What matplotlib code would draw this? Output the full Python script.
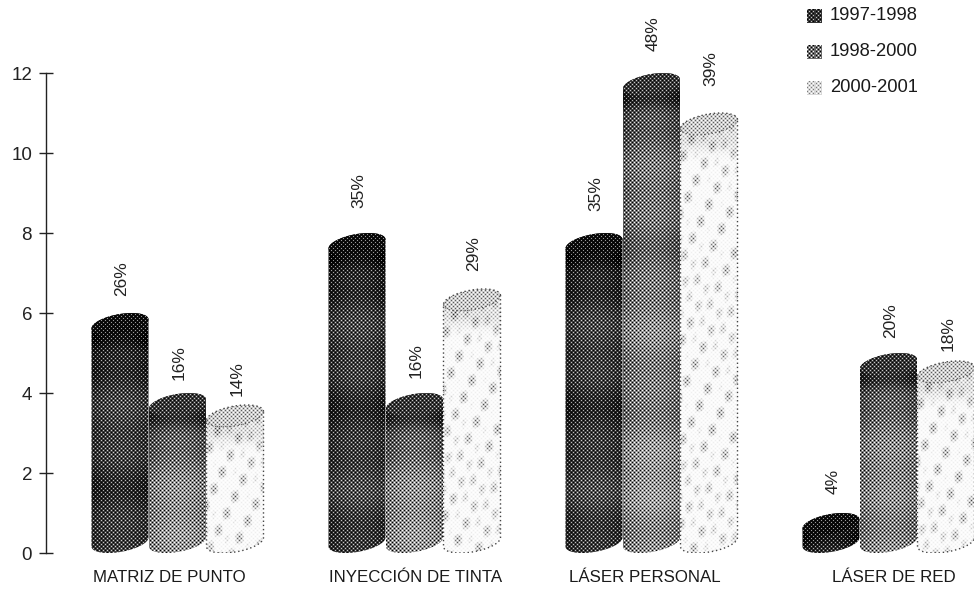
import numpy as np
import matplotlib
matplotlib.use('Agg')
import matplotlib.pyplot as plt
from matplotlib.patches import Polygon

plt.rcParams['font.family'] = ['Liberation Sans', 'DejaVu Sans']

categories = ['MATRIZ DE PUNTO', 'INYECCIÓN DE TINTA', 'LÁSER PERSONAL', 'LÁSER DE RED']
series = ['1997-1998', '1998-2000', '2000-2001']
values_9798 = [6.0, 8.0, 8.0, 1.0]
values_9800 = [4.0, 4.0, 12.0, 5.0]
values_0001 = [3.7, 6.6, 11.0, 4.8]
labels_9798 = ['26%', '35%', '35%', '4%']
labels_9800 = ['16%', '16%', '48%', '20%']
labels_0001 = ['14%', '29%', '39%', '18%']
yticks = [0, 2, 4, 6, 8, 10, 12]

# gap over each cylinder to its label, pixels
gaps_9798 = [17, 25, 22, 19]
gaps_9800 = [13, 15, 22, 15]
gaps_0001 = [9, 18, 27, 10]
# the category labels are not centred under the groups in the original
cat_shift = [-8, 1, -7, 5]

W, H = 974, 590
fig = plt.figure(figsize=(W / 100, H / 100), dpi=100)
ax = fig.add_axes([46 / W, (H - 553) / H, (W - 46) / W, 480 / H])
xlim = ((46 - 177.5) / 237, (W - 177.5) / 237)
ax.set_xlim(*xlim)
ax.set_ylim(0, 12)

PX = 1 / 237   # one pixel in x data units
PY = 12 / 480  # one pixel in y data units
BAR_W = 57 * PX
ELL_B = 10 * PY
ELL_K = 4.5 * PY
ELL_R = np.hypot(10, 4.5) * PY


def screen(w, h, x0=0):
    # 45 degree halftone screen, values -1..1
    yy, xx = np.mgrid[0:h, 0:w]
    xx = xx + x0
    return 0.5 * (np.cos(np.pi * (xx + yy) / 2) + np.cos(np.pi * (xx - yy) / 2))


def tone_map(kind, w, h):
    u = np.linspace(-1, 1, w)[None, :]
    ypx = np.arange(h)[:, None]
    v = np.linspace(0, 1, h)[:, None]  # 0 top, 1 bottom
    bands = 0.05 * np.sin(ypx / 23.0) + 0.03 * np.sin(ypx / 9.0 + 1)
    band_top = np.exp(-((ypx - 26) / 12.0) ** 2)
    if kind == 0:
        t = 0.78 - 0.04 * v + 0.10 * u ** 2 + bands + 0.12 * band_top
    elif kind == 1:
        t = 0.60 - 0.22 * v + 0.12 * u ** 2 + bands + 0.20 * band_top
    else:
        # mottled stipple of the lightest series
        blobs = np.maximum(0, np.sin(u * 4 + ypx / 19.0) * np.sin(ypx / 4.5 + u * 2) * np.cos(u * 9 - ypx / 31.0))
        t = 0.02 + 0.22 * blobs + 0.10 * band_top
    return np.clip(t, 0, 1)


def halftone(tone, x0=0):
    h, w = tone.shape
    amp = np.minimum(0.55, 2.2 * tone)
    return np.clip(1 - tone + amp * screen(w, h, x0), 0, 1)


def outline(cx, val, part):
    # tilted ellipse arcs in data units
    a = BAR_W / 2
    t = np.linspace(0, np.pi, 40)
    top_y = val - ELL_R
    bot_y = ELL_R
    top = np.column_stack([cx + a * np.cos(t), top_y + ELL_B * np.sin(t) + ELL_K * np.cos(t)])
    bot = np.column_stack([cx - a * np.cos(t), bot_y - ELL_B * np.sin(t) - ELL_K * np.cos(t)])
    if part == 'body':
        return np.vstack([top, bot])
    t2 = np.linspace(np.pi, 2 * np.pi, 40)
    under = np.column_stack([cx + a * np.cos(t2), top_y + ELL_B * np.sin(t2) + ELL_K * np.cos(t2)])
    if part == 'under':
        return under
    return np.vstack([top, under])


def cylinder(cx, val, kind):
    w = 59
    h = int(round(val / PY)) + 2
    x0 = int(round((cx - xlim[0]) / PX))
    left, right = cx - 29.5 * PX, cx + 29.5 * PX
    im = ax.imshow(halftone(tone_map(kind, w, h), x0), cmap='gray', vmin=0, vmax=1,
                   extent=(left, right, -PY, val + PY), aspect='auto',
                   interpolation='nearest', zorder=2 + kind * 0.1)
    body = Polygon(outline(cx, val, 'body'), closed=True, fc='none', ec='none')
    ax.add_patch(body)
    im.set_clip_path(body)

    # darker cap
    cap_tone = [0.95, 0.78, 0.20][kind]
    im2 = ax.imshow(halftone(np.full((30, w), cap_tone), x0), cmap='gray', vmin=0, vmax=1,
                    extent=(left, right, val + PY - 30 * PY, val + PY), aspect='auto',
                    interpolation='nearest', zorder=2.05 + kind * 0.1)
    cap = Polygon(outline(cx, val, 'cap'), closed=True, fc='none', ec='none')
    ax.add_patch(cap)
    im2.set_clip_path(cap)

    if kind == 2:
        ax.add_patch(Polygon(outline(cx, val, 'body'), closed=True, fc='none', ec='#444444',
                             lw=1.0, ls=(0, (1, 2)), zorder=3))
        under = outline(cx, val, 'under')
        ax.plot(under[:, 0], under[:, 1], color='#555555', lw=0.9, ls=(0, (1, 2)), zorder=3)


all_values = [values_9798, values_9800, values_0001]
all_labels = [labels_9798, labels_9800, labels_0001]
all_gaps = [gaps_9798, gaps_9800, gaps_0001]
for kind, (vals, labs, gaps) in enumerate(zip(all_values, all_labels, all_gaps)):
    for i, (v, lab, gap) in enumerate(zip(vals, labs, gaps)):
        cx = i + (kind - 1) * 57.5 * PX
        cylinder(cx, v, kind)
        ax.text(cx + 2 * PX, v + gap * PY, lab, rotation=90, ha='center', va='bottom',
                fontsize=12.5, color='#222222', clip_on=False, zorder=5)

for i, cat in enumerate(categories):
    ax.text(i + cat_shift[i] * PX, -24 * PY, cat, ha='center', va='center',
            fontsize=12.2, color='#1a1a1a', clip_on=False)

# legend, top right corner outside the axis range
for kind, name in enumerate(series):
    y_c = (553 - (16 + 36 * kind)) * PY
    x_l = (807 - 177.5) * PX
    swatch = halftone(np.full((14, 14), [0.80, 0.58, 0.16][kind]))
    im = ax.imshow(swatch, cmap='gray', vmin=0, vmax=1, aspect='auto', interpolation='nearest',
                   extent=(x_l, x_l + 14 * PX, y_c - 7 * PY, y_c + 7 * PY), zorder=4)
    im.set_clip_on(False)
    ax.text(x_l + 23 * PX, y_c, name, ha='left', va='center', fontsize=13.2, color='#1a1a1a', clip_on=False)

ax.set_xlim(*xlim)
ax.set_ylim(0, 12)
for s in ['top', 'right', 'bottom']:
    ax.spines[s].set_visible(False)
ax.spines['left'].set_linewidth(1.0)
ax.spines['left'].set_color('#222222')
ax.set_xticks([])
ax.set_yticks(yticks)
ax.tick_params(axis='y', direction='inout', length=10, width=1, color='#222222',
               labelsize=13.5, labelcolor='#222222', pad=5)
ax.patch.set_alpha(0)

fig.savefig('out.png', dpi=100, facecolor='white')
